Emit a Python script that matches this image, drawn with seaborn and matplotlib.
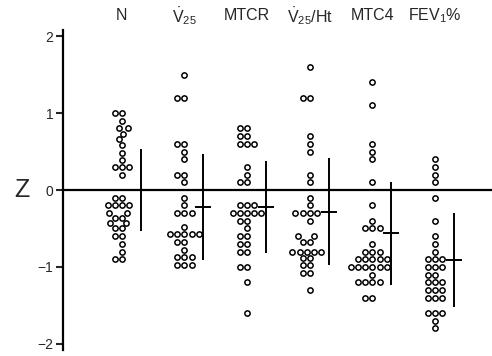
import pandas as pd
import matplotlib
matplotlib.use('Agg')
import matplotlib.pyplot as plt
import seaborn as sns

# test names and header labels
tests = ['N', 'V25', 'MTCR', 'V25/Ht', 'MTC4', 'FEV1%']
labels = ['N', r'$\dot{\mathrm{V}}_{25}$', 'MTCR', r'$\dot{\mathrm{V}}_{25}$/Ht', 'MTC4', r'FEV$_1$%']

# individual Z scores
n_z = [1.0, 1.0, 0.9, 0.8, 0.8, 0.73, 0.66, 0.58, 0.48, 0.39, 0.3, 0.3, 0.3, 0.2,
       -0.1, -0.1, -0.2, -0.2, -0.2, -0.2, -0.3, -0.3, -0.36, -0.36, -0.43, -0.43,
       -0.5, -0.5, -0.6, -0.6, -0.7, -0.8, -0.9, -0.9]
v25_z = [1.5, 1.2, 1.2, 0.6, 0.6, 0.5, 0.4, 0.2, 0.2, 0.1,
         -0.1, -0.2, -0.3, -0.3, -0.3, -0.48, -0.57, -0.57, -0.57, -0.57, -0.57,
         -0.68, -0.68, -0.78, -0.87, -0.87, -0.87, -0.97, -0.97, -0.97]
mtcr_z = [0.8, 0.8, 0.7, 0.7, 0.6, 0.6, 0.6, 0.3, 0.2, 0.1, 0.1,
          -0.2, -0.2, -0.2, -0.3, -0.3, -0.3, -0.3, -0.3, -0.4, -0.4, -0.5,
          -0.6, -0.6, -0.7, -0.7, -0.8, -0.8, -1.0, -1.0, -1.2, -1.6]
v25ht_z = [1.6, 1.2, 1.2, 0.7, 0.6, 0.5, 0.2, 0.1,
           -0.1, -0.2, -0.3, -0.3, -0.3, -0.3, -0.4, -0.6, -0.6, -0.67, -0.67,
           -0.8, -0.8, -0.8, -0.8, -0.8, -0.88, -0.88, -0.98, -0.98, -1.08, -1.08, -1.3]
mtc4_z = [1.4, 1.1, 0.6, 0.5, 0.4, 0.1,
          -0.2, -0.4, -0.5, -0.5, -0.5, -0.7, -0.8, -0.8, -0.8,
          -0.9, -0.9, -0.9, -0.9, -0.9, -1.0, -1.0, -1.0, -1.0, -1.0, -1.0,
          -1.1, -1.2, -1.2, -1.2, -1.2, -1.4, -1.4]
fev_z = [0.4, 0.3, 0.2, 0.1, -0.1, -0.4, -0.6, -0.7, -0.8,
         -0.9, -0.9, -0.9, -1.0, -1.0, -1.0, -1.1, -1.1, -1.2, -1.2, -1.2,
         -1.3, -1.3, -1.3, -1.4, -1.4, -1.4, -1.6, -1.6, -1.6, -1.7, -1.8]

# mean and SD bars
means = [0.0, -0.22, -0.22, -0.28, -0.56, -0.91]
sds = [0.53, 0.69, 0.6, 0.69, 0.67, 0.61]

all_z = [n_z, v25_z, mtcr_z, v25ht_z, mtc4_z, fev_z]
df = pd.DataFrame({
    'test': [t for t, vals in zip(tests, all_z) for _ in vals],
    'z': [v for vals in all_z for v in vals],
})

sns.set_style('white')
plt.rcParams['font.family'] = ['Liberation Sans', 'DejaVu Sans']
plt.rcParams['mathtext.fontset'] = 'custom'
plt.rcParams['mathtext.rm'] = 'Liberation Sans'

fig = plt.figure(figsize=(4.92, 3.56), dpi=100)
ax = fig.add_axes([63 / 492, 6 / 356, 429 / 492, 320 / 356])

sns.swarmplot(data=df, x='test', y='z', order=tests, ax=ax, size=3.8,
              color='white', edgecolor='black', linewidth=1.1)

# mean +/- SD, drawn just right of each column
xs = [i + 0.3 for i in range(len(tests))]
ax.errorbar(xs, means, yerr=sds, fmt='_', color='black', markersize=11,
            markeredgewidth=1.4, elinewidth=1.4, capsize=0, zorder=4)

ax.axhline(0, color='black', lw=1.6, zorder=1)

ax.set_xlim(-0.94, 5.91)
ax.set_ylim(-2.08, 2.08)
ax.set_yticks([-2, -1, 0, 1, 2])
ax.set_yticklabels(['\u22122', '\u22121', '0', '1', '2'], fontsize=10)
ax.set_xticks([])
ax.set_xlabel('')
ax.set_ylabel('')
for s in ['top', 'right', 'bottom']:
    ax.spines[s].set_visible(False)
ax.spines['left'].set_linewidth(1.6)
ax.spines['left'].set_color('black')
ax.tick_params(axis='y', left=True, length=5, width=1.5, direction='out', pad=2)

for i, lab in enumerate(labels):
    ax.text(i, 1.044, lab, transform=ax.get_xaxis_transform(), ha='center',
            va='center', fontsize=11.5)

fig.text(22 / 492, 166 / 356, 'Z', ha='center', va='center', fontsize=18)

fig.savefig('out.png', dpi=100)
